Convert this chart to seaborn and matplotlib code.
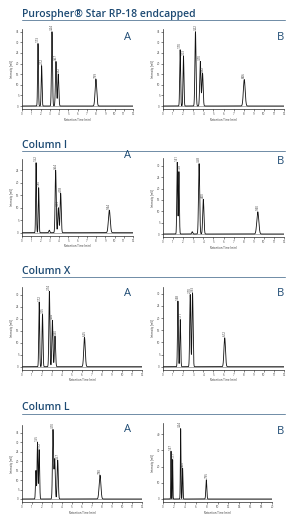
import numpy as np
import pandas as pd
import matplotlib
matplotlib.use("Agg")
import matplotlib.pyplot as plt
import seaborn as sns

# section titles
titles = ["Purospher® Star RP-18 endcapped", "Column I", "Column X", "Column L"]

# peaks: retention time (min), height (mV)
p1a_rt = [1.73, 2.12, 3.24, 3.67, 3.92, 7.99]
p1a_h = [29.5, 19.0, 35.0, 21.0, 15.0, 12.7]
p1b_rt = [1.70, 2.03, 3.22, 3.70, 3.92, 8.06]
p1b_h = [26.5, 23.5, 35.0, 21.0, 15.5, 12.5]
p2a_rt = [1.52, 1.80, 2.95, 3.64, 3.93, 4.18, 9.44]
p2a_h = [28.0, 18.0, 1.0, 25.0, 10.0, 15.8, 9.0]
p2b_rt = [1.41, 1.58, 2.90, 3.58, 4.00, 9.40]
p2b_h = [31.6, 27.5, 1.0, 31.0, 15.3, 9.8]
p3a_rt = [1.72, 2.05, 2.74, 3.04, 3.30, 6.25]
p3a_h = [27.0, 21.8, 31.5, 19.4, 12.8, 12.2]
p3b_rt = [1.48, 1.71, 2.70, 2.93, 6.12]
p3b_h = [27.0, 19.4, 29.7, 30.3, 11.9]
p4a_rt = [1.39, 1.55, 1.72, 3.10, 3.27, 3.57, 7.80]
p4a_h = [15.0, 30.0, 26.0, 36.5, 21.0, 20.5, 12.6]
p4b_rt = [1.47, 1.77, 3.24, 3.60, 7.95]
p4b_h = [29.6, 24.4, 43.5, 19.0, 11.9]

# which peaks carry a printed retention-time label
p1a_lab = [True, True, True, True, True, True]
p1b_lab = [True, True, True, True, True, True]
p2a_lab = [True, True, False, True, True, True, True]
p2b_lab = [True, True, False, True, True, True]
p3a_lab = [True, True, True, True, True, True]
p3b_lab = [True, True, True, True, True]
p4a_lab = [False, True, True, True, False, True, True]
p4b_lab = [True, True, True, True, True]

W, H = 300, 524
BLUE = "#1d4a73"

sns.set_style("ticks")
plt.rcParams["font.family"] = ["Open Sans", "DejaVu Sans"]

fig = plt.figure(figsize=(W / 100, H / 100), dpi=100)


def px_rect(l, t, r, b):
    return [l / W, 1 - b / H, (r - l) / W, (b - t) / H]


def chromatogram(rt, h, tmax):
    t = np.arange(0, tmax, 0.004)
    y = np.zeros_like(t)
    for r, a in zip(rt, h):
        s = 0.032 + 0.007 * r
        y += a * np.exp(-0.5 * ((t - r) / s) ** 2)
    return pd.DataFrame({"time": t, "signal": y})


def panel(l, t, r, zero, ymax, ystep, xmax, xstep, rt, h, lab, letter, lx, ly):
    unit = (zero - t) / ymax
    ylo = -3.2 / unit
    ax = fig.add_axes(px_rect(l, t, r, zero + 3.2))
    df = chromatogram(rt, h, xmax)
    ax.axhline(0, color="#a0a0a0", lw=0.6, zorder=1)
    sns.lineplot(data=df, x="time", y="signal", ax=ax, color="#111111", lw=0.6)
    # peak labels, nudged apart when two peaks sit very close
    shown = [(r_, h_) for r_, h_, s in zip(rt, h, lab) if s]
    xs = [p[0] for p in shown]
    gap = 3.3 * xmax / (r - l)
    for i in range(1, len(xs)):
        if xs[i] - xs[i - 1] < gap:
            d = (gap - (xs[i] - xs[i - 1])) / 2
            xs[i - 1] -= d
            xs[i] += d
    for x_, (r_, h_) in zip(xs, shown):
        ax.text(x_, h_ + 0.6 * (ymax / 35), f"{r_:.2f}", rotation=90,
                fontsize=2.2, ha="center", va="bottom", color="#333333")
    ax.set_xlim(0, xmax)
    ax.set_ylim(ylo, ymax)
    ax.set_xticks(np.arange(0, xmax + 0.01, xstep))
    ax.set_yticks(np.arange(0, ymax, ystep))
    ax.tick_params(labelsize=2.1, length=1.2, width=0.4, pad=1,
                   labelcolor="#444444")
    ax.set_xlabel("Retention Time (min)", fontsize=2.0, labelpad=1)
    ax.set_ylabel("Intensity [mV]", fontsize=2.0, labelpad=1)
    for side in ["left", "bottom"]:
        ax.spines[side].set_linewidth(0.5)
    sns.despine(ax=ax)
    fig.text(lx / W, 1 - ly / H, letter, fontsize=8, color=BLUE,
             ha="center", va="center")
    return ax


def header(text, line_y):
    fig.text(22 / W, 1 - (line_y - 3.5) / H, text, fontsize=7.5,
             fontweight="semibold", color=BLUE, ha="left", va="baseline")
    fig.add_artist(plt.Line2D([22 / W, 285 / W], [1 - line_y / H] * 2,
                              color="#6f8ca6", lw=0.7))


header(titles[0], 20)
panel(22, 29, 133, 106, 36.3, 5, 12, 1, p1a_rt, p1a_h, p1a_lab, "A", 128, 37)
panel(163, 29, 284, 106, 36.3, 5, 12, 1, p1b_rt, p1b_h, p1b_lab, "B", 281, 37)

header(titles[1], 151)
panel(22, 159, 133, 232.7, 29.5, 5, 12, 1, p2a_rt, p2a_h, p2a_lab, "A", 128, 156)
panel(163, 158, 284, 234, 33.5, 5, 12, 1, p2b_rt, p2b_h, p2b_lab, "B", 281, 162)

header(titles[2], 277)
panel(22, 287, 142, 366.7, 33.3, 5, 12, 1, p3a_rt, p3a_h, p3a_lab, "A", 128, 293)
panel(163, 287, 284, 366.7, 32.8, 5, 12, 1, p3b_rt, p3b_h, p3b_lab, "B", 280, 293)

header(titles[3], 414)
panel(22, 425, 142, 499, 39, 5, 12, 1, p4a_rt, p4a_h, p4a_lab, "A", 128, 430)
panel(163, 423, 272, 499, 47, 10, 20, 2, p4b_rt, p4b_h, p4b_lab, "B", 281, 432)

fig.savefig("out.png", dpi=100, facecolor="white")
